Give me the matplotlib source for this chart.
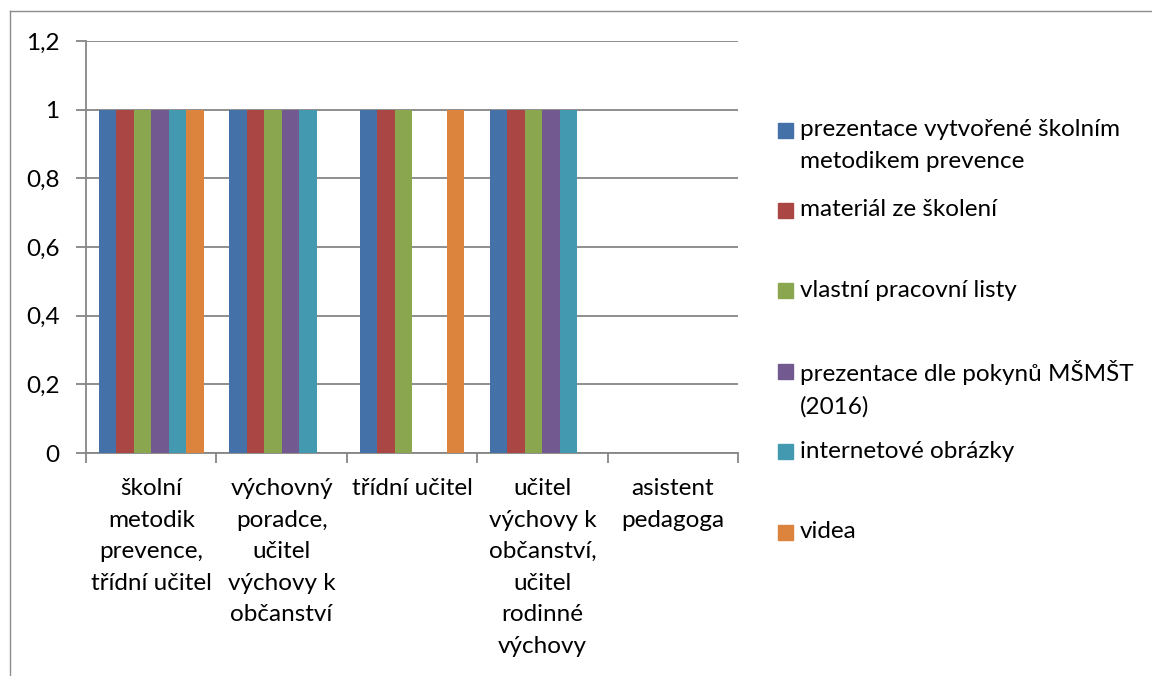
import numpy as np
import matplotlib
matplotlib.use('Agg')
import matplotlib.pyplot as plt
from matplotlib.patches import Rectangle
from matplotlib.lines import Line2D
from matplotlib.ticker import FuncFormatter

plt.rcParams['font.family'] = ['Lato', 'DejaVu Sans']

categories = ['školní\nmetodik\nprevence,\ntřídní učitel',
              'výchovný\nporadce,\nučitel\nvýchovy k\nobčanství',
              'třídní učitel',
              'učitel\nvýchovy k\nobčanství,\nučitel\nrodinné\nvýchovy',
              'asistent\npedagoga']

series_names = ['prezentace vytvořené školním\nmetodikem prevence',
                'materiál ze školení',
                'vlastní pracovní listy',
                'prezentace dle pokynů MŠMŠT\n(2016)',
                'internetové obrázky',
                'videa']

prezentace_smp = [1, 1, 1, 1, 0]
material_skoleni = [1, 1, 1, 1, 0]
vlastni_listy = [1, 1, 1, 1, 0]
prezentace_msmt = [1, 1, 0, 1, 0]
internetove_obrazky = [1, 1, 0, 1, 0]
videa = [1, 0, 1, 0, 0]

series_values = [prezentace_smp, material_skoleni, vlastni_listy,
                 prezentace_msmt, internetove_obrazky, videa]
colors = ['#4472A8', '#AA4644', '#8AA64F', '#72598F', '#4299B0', '#DC843D']

W, H = 1152, 676
FS = 17.5
LS = 1.62
GRID = '#868686'

fig = plt.figure(figsize=(W / 100, H / 100), dpi=100)
ax = fig.add_axes([86 / W, 1 - 453 / H, (738 - 86) / W, (453 - 41) / H])

x = np.arange(len(categories))
bw = 0.134
for i, (vals, col) in enumerate(zip(series_values, colors)):
    ax.bar(x + (i - 2.5) * bw, vals, bw, color=col, linewidth=0, zorder=3)

ax.set_xlim(-0.5, len(categories) - 0.5)
ax.set_ylim(0, 1.2)
ax.set_yticks(np.arange(0, 1.21, 0.2))
ax.yaxis.set_major_formatter(FuncFormatter(
    lambda v, p: ('%g' % round(v, 1)).replace('.', ',')))
ax.yaxis.grid(True, color=GRID, linewidth=1.3, zorder=0)

# category boundaries as tick marks, labels on minor ticks
ax.set_xticks(np.arange(-0.5, len(categories), 1.0))
ax.set_xticklabels([])
ax.set_xticks(x, minor=True)
ax.set_xticklabels(categories, minor=True, fontsize=FS, linespacing=LS)
ax.tick_params(axis='x', which='major', length=7, width=1.3, color=GRID, direction='out')
ax.tick_params(axis='x', which='minor', length=0, pad=18)
ax.tick_params(axis='y', length=7, width=1.3, color=GRID, pad=12, labelsize=FS)

for s in ['top', 'right']:
    ax.spines[s].set_visible(False)
for s in ['left', 'bottom']:
    ax.spines[s].set_color(GRID)
    ax.spines[s].set_linewidth(1.3)

# legend drawn by hand to match spacing
for i, (name, col) in enumerate(zip(series_names, colors)):
    yc = 130 + 80.4 * i
    fig.add_artist(Rectangle((778 / W, 1 - (yc + 7.5) / H), 15 / W, 15 / H,
                             transform=fig.transFigure, color=col))
    fig.text(800 / W, 1 - (yc - 11) / H, name, fontsize=FS, va='top',
             ha='left', linespacing=LS)

# outer chart frame
fig.add_artist(Line2D([10 / W, 10 / W], [0, 1 - 11 / H],
                      transform=fig.transFigure, color='#8C8C8C', linewidth=1))
fig.add_artist(Line2D([10 / W, 1], [1 - 11 / H, 1 - 11 / H],
                      transform=fig.transFigure, color='#8C8C8C', linewidth=1))

fig.savefig('out.png', dpi=100)
